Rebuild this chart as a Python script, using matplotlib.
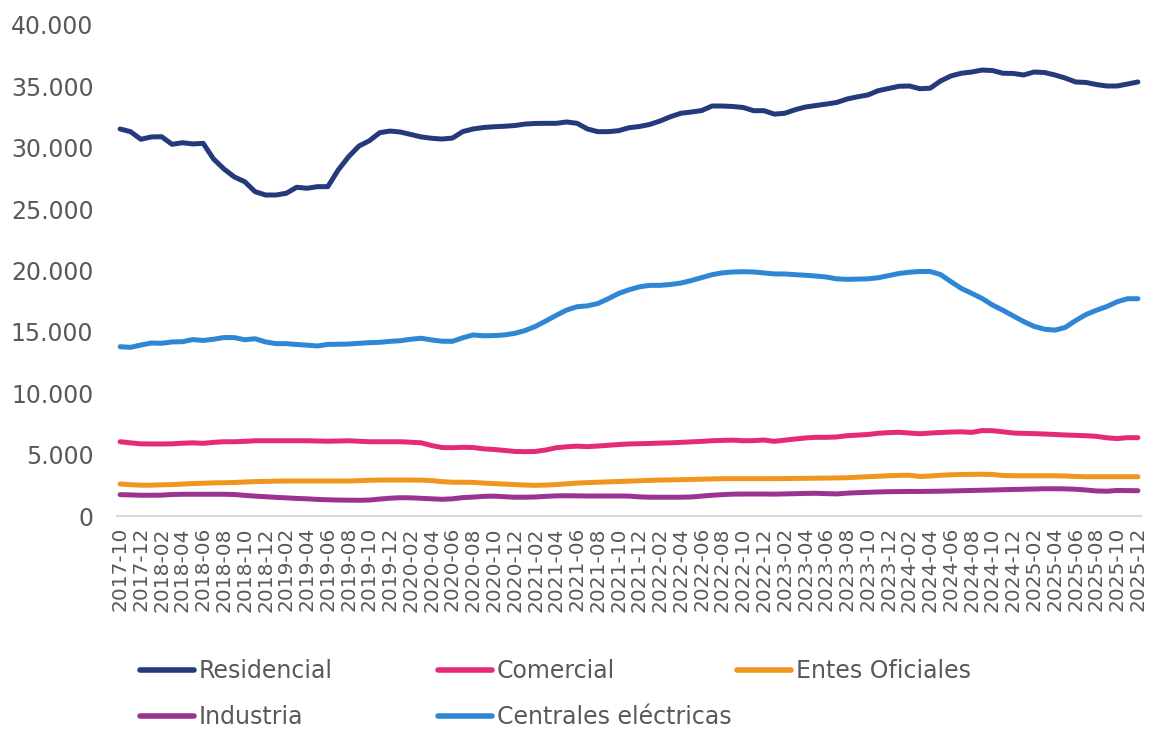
import matplotlib
matplotlib.use("Agg")
import matplotlib.pyplot as plt
from matplotlib.ticker import FuncFormatter, FixedLocator
from matplotlib.lines import Line2D

plt.rcParams['font.family'] = ['DejaVu Sans']

# Monthly periods 2017-10 .. 2025-12
months = []
y, m = 2017, 10
while (y, m) <= (2025, 12):
    months.append(f"{y}-{m:02d}")
    m += 1
    if m > 12:
        m = 1
        y += 1

residencial = [31.53, 31.31, 30.69, 30.88, 30.90, 30.28, 30.41, 30.31, 30.36, 29.08,
               28.27, 27.62, 27.23, 26.42, 26.15, 26.15, 26.29, 26.78, 26.70, 26.83,
               26.83, 28.19, 29.27, 30.14, 30.57, 31.23, 31.36, 31.28, 31.08, 30.88,
               30.77, 30.71, 30.79, 31.32, 31.53, 31.65, 31.71, 31.75, 31.81, 31.93,
               31.98, 31.99, 31.99, 32.10, 31.99, 31.53, 31.31, 31.31, 31.39, 31.63,
               31.73, 31.90, 32.18, 32.53, 32.81, 32.91, 33.03, 33.40, 33.40, 33.36,
               33.28, 33.02, 33.02, 32.74, 32.81, 33.10, 33.32, 33.44, 33.56, 33.69,
               33.97, 34.15, 34.30, 34.65, 34.83, 35.01, 35.03, 34.81, 34.85, 35.44,
               35.85, 36.07, 36.17, 36.33, 36.29, 36.07, 36.05, 35.93, 36.17, 36.13,
               35.93, 35.68, 35.36, 35.32, 35.15, 35.03, 35.03, 35.19, 35.36]

centrales = [13.79, 13.74, 13.93, 14.09, 14.07, 14.18, 14.20, 14.37, 14.30, 14.40,
             14.54, 14.53, 14.36, 14.44, 14.18, 14.04, 14.04, 13.97, 13.92, 13.85,
             13.98, 13.99, 14.01, 14.07, 14.12, 14.15, 14.23, 14.28, 14.40, 14.48,
             14.34, 14.24, 14.23, 14.52, 14.75, 14.68, 14.70, 14.75, 14.88, 15.11,
             15.45, 15.89, 16.35, 16.78, 17.05, 17.12, 17.31, 17.70, 18.13, 18.43,
             18.67, 18.79, 18.79, 18.86, 18.98, 19.18, 19.42, 19.66, 19.81, 19.88,
             19.90, 19.88, 19.80, 19.72, 19.72, 19.66, 19.61, 19.55, 19.47, 19.32,
             19.28, 19.30, 19.32, 19.41, 19.58, 19.76, 19.86, 19.92, 19.92, 19.67,
             19.09, 18.54, 18.14, 17.72, 17.19, 16.76, 16.30, 15.84, 15.45, 15.22,
             15.14, 15.36, 15.92, 16.41, 16.76, 17.06, 17.45, 17.70, 17.70]

comercial = [6.05, 5.96, 5.88, 5.87, 5.87, 5.88, 5.93, 5.96, 5.92, 6.00,
             6.05, 6.05, 6.08, 6.13, 6.13, 6.13, 6.13, 6.13, 6.13, 6.11,
             6.09, 6.11, 6.13, 6.09, 6.05, 6.05, 6.05, 6.05, 6.01, 5.96,
             5.74, 5.58, 5.56, 5.60, 5.58, 5.47, 5.42, 5.34, 5.26, 5.24,
             5.26, 5.38, 5.56, 5.64, 5.69, 5.65, 5.70, 5.76, 5.82, 5.87,
             5.89, 5.91, 5.94, 5.96, 6.00, 6.04, 6.08, 6.13, 6.16, 6.18,
             6.13, 6.14, 6.19, 6.08, 6.18, 6.27, 6.36, 6.41, 6.41, 6.44,
             6.54, 6.59, 6.64, 6.74, 6.79, 6.82, 6.76, 6.70, 6.76, 6.80,
             6.84, 6.86, 6.81, 6.96, 6.95, 6.86, 6.76, 6.73, 6.71, 6.68,
             6.64, 6.60, 6.57, 6.54, 6.49, 6.37, 6.31, 6.38, 6.38]

entes = [2.61, 2.55, 2.51, 2.51, 2.54, 2.56, 2.60, 2.64, 2.67, 2.70,
         2.71, 2.73, 2.77, 2.80, 2.82, 2.84, 2.85, 2.85, 2.85, 2.85,
         2.85, 2.85, 2.85, 2.88, 2.91, 2.93, 2.93, 2.93, 2.93, 2.92,
         2.88, 2.80, 2.75, 2.75, 2.74, 2.68, 2.64, 2.60, 2.56, 2.52,
         2.50, 2.52, 2.56, 2.62, 2.68, 2.72, 2.75, 2.78, 2.81, 2.84,
         2.87, 2.90, 2.93, 2.94, 2.96, 2.98, 3.00, 3.02, 3.04, 3.04,
         3.04, 3.04, 3.04, 3.04, 3.05, 3.06, 3.07, 3.08, 3.09, 3.10,
         3.12, 3.16, 3.20, 3.24, 3.28, 3.31, 3.32, 3.22, 3.26, 3.32,
         3.36, 3.38, 3.39, 3.40, 3.38, 3.30, 3.28, 3.28, 3.28, 3.28,
         3.28, 3.26, 3.22, 3.20, 3.20, 3.20, 3.20, 3.20, 3.20]

industria = [1.74, 1.72, 1.69, 1.69, 1.70, 1.75, 1.77, 1.77, 1.77, 1.77,
             1.77, 1.75, 1.68, 1.62, 1.57, 1.52, 1.48, 1.43, 1.40, 1.35,
             1.32, 1.30, 1.29, 1.28, 1.30, 1.38, 1.45, 1.49, 1.48, 1.44,
             1.40, 1.36, 1.40, 1.50, 1.54, 1.60, 1.62, 1.57, 1.53, 1.53,
             1.55, 1.60, 1.64, 1.65, 1.64, 1.63, 1.63, 1.63, 1.63, 1.62,
             1.56, 1.53, 1.53, 1.53, 1.53, 1.55, 1.62, 1.69, 1.74, 1.78,
             1.79, 1.79, 1.79, 1.78, 1.80, 1.82, 1.84, 1.85, 1.82, 1.80,
             1.86, 1.90, 1.93, 1.96, 1.98, 1.99, 2.00, 2.00, 2.01, 2.02,
             2.04, 2.06, 2.08, 2.10, 2.12, 2.14, 2.16, 2.18, 2.20, 2.22,
             2.22, 2.21, 2.18, 2.12, 2.04, 2.02, 2.08, 2.07, 2.06]

series = [
    ("Residencial", residencial, "#253A7B"),
    ("Comercial", comercial, "#E52A78"),
    ("Entes Oficiales", entes, "#F0961F"),
    ("Industria", industria, "#9B3490"),
    ("Centrales eléctricas", centrales, "#2E86D5"),
]

W, H = 1149, 729
fig = plt.figure(figsize=(W / 100, H / 100), dpi=100)
ax = fig.add_axes([117 / W, (H - 516) / H, (1141 - 117) / W, (516 - 25) / H])

x = list(range(len(months)))
handles = {}
for name, vals, col in series:
    ln, = ax.plot(x, [v * 1000 for v in vals], color=col, lw=3.6,
                  solid_capstyle='round', solid_joinstyle='round', label=name)
    handles[name] = ln

ax.set_ylim(0, 40000)
ax.set_xlim(-0.3, len(months) - 1 + 0.3)
ax.yaxis.set_major_locator(FixedLocator(list(range(0, 40001, 5000))))
ax.yaxis.set_major_formatter(FuncFormatter(lambda v, p: f"{int(v):,}".replace(",", ".")))
ax.set_xticks(x[::2])
ax.set_xticklabels(months[::2], rotation=90, va='top', ha='center')

for s in ['top', 'right', 'left']:
    ax.spines[s].set_visible(False)
ax.spines['bottom'].set_color('#D9D9D9')
ax.spines['bottom'].set_linewidth(1.5)
ax.tick_params(axis='y', length=0, pad=17, labelsize=17, labelcolor='#595959')
ax.tick_params(axis='x', length=0, pad=8, labelsize=14.5, labelcolor='#595959')

leg_kw = dict(frameon=False, fontsize=17, handlelength=2.3, handletextpad=0.2,
              labelspacing=0.93, borderpad=0, borderaxespad=0, loc='upper left',
              labelcolor='#595959')
top = 1 - 659 / H
cols = [(140, ["Residencial", "Industria"]),
        (438, ["Comercial", "Centrales eléctricas"]),
        (737, ["Entes Oficiales"])]
for xpos, names in cols:
    hs = [Line2D([], [], color=handles[n].get_color(), lw=4.0, solid_capstyle='round') for n in names]
    fig.legend(hs, names, bbox_to_anchor=(xpos / W, top), **leg_kw)

fig.savefig("out.png", dpi=100)
